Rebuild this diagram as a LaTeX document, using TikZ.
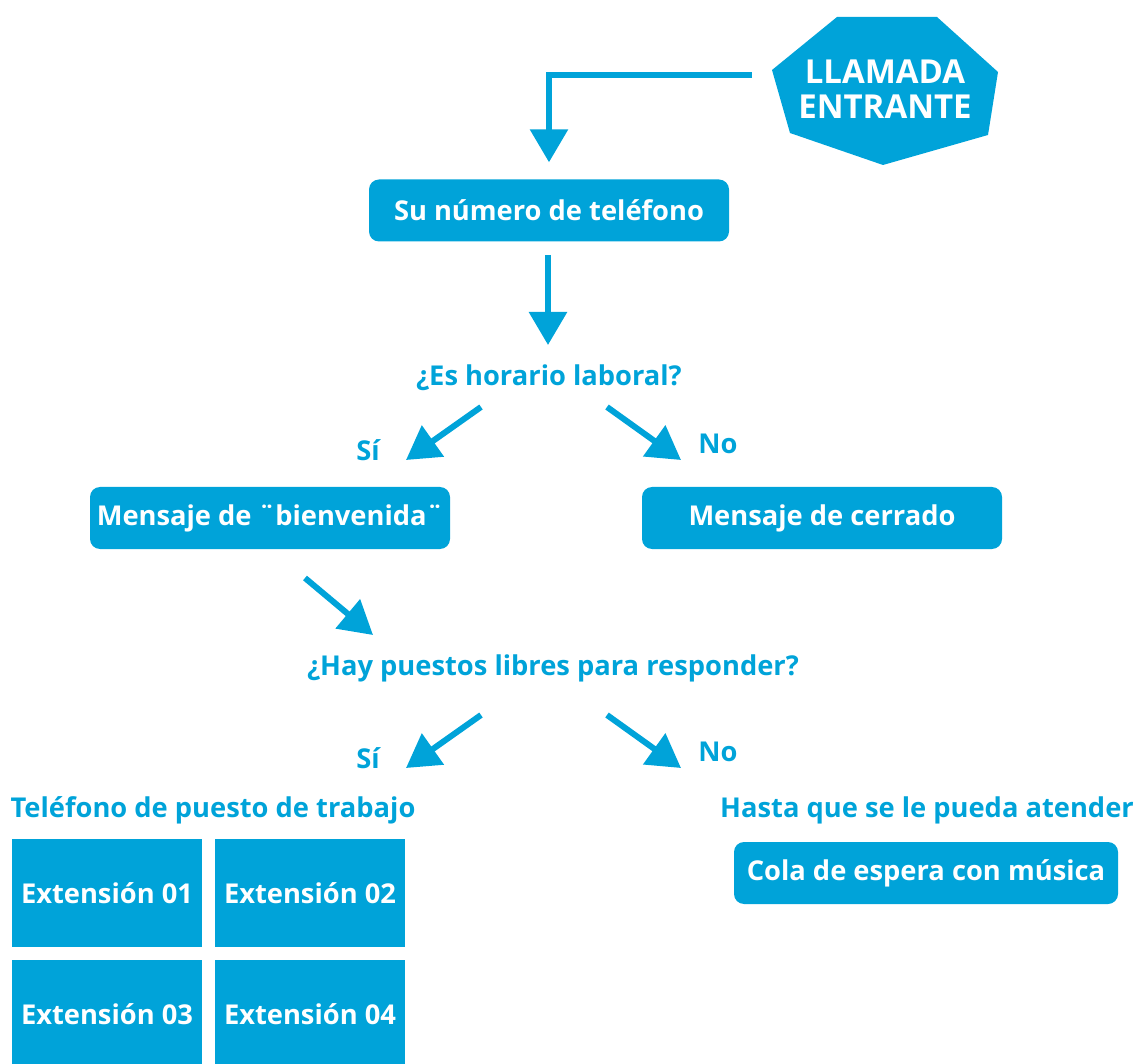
\documentclass[tikz,border=0pt]{standalone}
\usepackage{fontspec}
\setmainfont{Open Sans}
\usetikzlibrary{arrows.meta}
\definecolor{cy}{RGB}{0,163,217}
\newcommand\myfs{\fontsize{27.3}{32}\selectfont\bfseries}
\newcommand\mybig{\fontsize{33}{35}\selectfont\bfseries}
\begin{document}
\begin{tikzpicture}[x=1pt,y=-1pt,
  box/.style={fill=cy, rounded corners=10pt, text=white, font=\myfs, minimum height=62pt, inner sep=0pt},
  extbox/.style={fill=cy, text=white, font=\myfs, minimum width=190pt, minimum height=108pt, inner sep=0pt},
  lbl/.style={text=cy, font=\myfs, inner sep=0pt},
  arr/.style={draw=cy, line width=6pt, -{Triangle[length=33pt,width=37pt]}}]
\useasboundingbox (0,0) rectangle (1136,1064);
% start shape
\fill[cy] (837,17) -- (937,17) -- (998,72) -- (988,135) -- (883,165) -- (790,133) -- (772,70) -- cycle;
\node[text=white, font=\mybig, align=center, inner sep=0pt] (llam) at (885,89) {LLAMADA\\ENTRANTE};
% boxes
\node[box, minimum width=360pt] (tel) at (549,210.5) {Su número de teléfono};
\node[lbl] (q1) at (549,378) {¿Es horario laboral?};
\node[lbl] (si1) at (368,450) {Sí};
\node[lbl] (no1) at (718,444) {No};
\node[box, minimum width=360pt] (bien) at (270,518) {Mensaje de ¨bienvenida¨};
\node[box, minimum width=360pt] (cerr) at (822,518) {Mensaje de cerrado};
\node[lbl] (q2) at (553,668) {¿Hay puestos libres para responder?};
\node[lbl] (si2) at (368,758) {Sí};
\node[lbl] (no2) at (718,752) {No};
\node[lbl] (tpt) at (213,810) {Teléfono de puesto de trabajo};
\node[lbl] (hasta) at (927,810) {Hasta que se le pueda atender};
\node[box, minimum width=384pt] (cola) at (926,873) {Cola de espera con música};
\node[extbox] (e1) at (107,893) {Extensión 01};
\node[extbox] (e2) at (310,893) {Extensión 02};
\node[extbox] (e3) at (107,1014) {Extensión 03};
\node[extbox] (e4) at (310,1014) {Extensión 04};
% connector ends
\coordinate (c0) at (752,75);
\coordinate (c1) at (548,255);
\coordinate (c1e) at (548,345);
\coordinate (d1s) at (481,407);
\coordinate (d1e) at (406,460);
\coordinate (d2s) at (607,407);
\coordinate (d2e) at (681,460);
\coordinate (d3s) at (305,578);
\coordinate (d3e) at (373,635);
\coordinate (d4s) at (481,715);
\coordinate (d4e) at (406,768);
\coordinate (d5s) at (607,715);
\coordinate (d5e) at (681,768);
% connectors
\draw[arr, shorten >=17pt] (c0) -| (tel.north);
\draw[arr] (c1) -- (c1e);
\draw[arr] (d1s) -- (d1e);
\draw[arr] (d2s) -- (d2e);
\draw[arr] (d3s) -- (d3e);
\draw[arr] (d4s) -- (d4e);
\draw[arr] (d5s) -- (d5e);
\end{tikzpicture}
\end{document}
